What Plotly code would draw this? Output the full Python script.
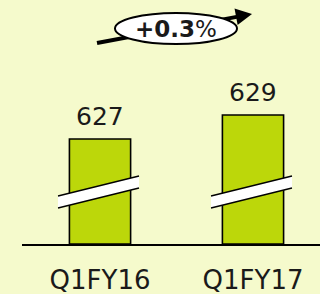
import plotly.graph_objects as go

categories = ["Q1FY16", "Q1FY17"]
values = [627, 629]
value_labels = ["627", "629"]
growth_label = "+0.3"

W, H = 320, 294
ML, MR, MT, MB = 22, 0, 0, 50
PW, PH = W - ML - MR, H - MT - MB

def px(xp):
    return (xp - ML) / PW

def py(yp):
    return (H - MB - yp) / PH

BG = "#F5FACC"
BAR = "#BCD70A"
FONT = "DejaVu Sans"

y_base = 618.25
y_top = y_base + PH / 12.0

fig = go.Figure()
fig.add_trace(go.Bar(
    x=[0, 1], y=[v - y_base for v in values], base=y_base,
    width=0.40, marker=dict(color=BAR, line=dict(color="black", width=1.6)),
    hoverinfo="skip",
))

# value labels
for i, (v, t) in enumerate(zip(values, value_labels)):
    fig.add_annotation(x=i, y=v, text=t, showarrow=False, yanchor="bottom",
                       yshift=6, font=dict(family=FONT, size=25, color="#1a1a1a"))

# break bands (relative to each bar centre, in axis units)
x_per_px = 1 / 153.0
y_per_px = 1 / 12.0
for i in range(len(categories)):
    xl = i - 42 * x_per_px
    xr = i + 39 * x_per_px
    yl = y_base + 42 * y_per_px
    yr = y_base + 62 * y_per_px
    h = 6 * y_per_px
    fig.add_shape(type="path", xref="x", yref="y",
                  path=f"M {xl},{yl-h} L {xr},{yr-h} L {xr},{yr+h} L {xl},{yl+h} Z",
                  fillcolor="white", line=dict(width=0), layer="above")
    for s in (-h, h):
        fig.add_shape(type="line", xref="x", yref="y", x0=xl, y0=yl + s, x1=xr, y1=yr + s,
                      line=dict(color="black", width=1.3), layer="above")

# growth arrow (below layer so the text annotation stays on top)
fig.add_shape(type="line", xref="paper", yref="paper",
              x0=px(97), y0=py(43), x1=px(238), y1=py(16.6),
              line=dict(color="black", width=4), layer="below")
fig.add_shape(type="path", xref="paper", yref="paper",
              path=f"M {px(252)},{py(14)} L {px(237.6)},{py(25)} L {px(234.5)},{py(8.5)} Z",
              fillcolor="black", line=dict(width=0), layer="below")
fig.add_shape(type="circle", xref="paper", yref="paper",
              x0=px(115), x1=px(237), y0=py(44), y1=py(13),
              fillcolor="white", line=dict(color="black", width=2), layer="below")
fig.add_annotation(xref="paper", yref="paper", x=px(176), y=py(29),
                   xanchor="center", yanchor="middle",
                   text=f"<b>{growth_label}</b>%", showarrow=False,
                   font=dict(family=FONT, size=23, color="#1a1a1a"))

fig.update_layout(
    width=W, height=H, margin=dict(l=ML, r=MR, t=MT, b=MB),
    paper_bgcolor=BG, plot_bgcolor=BG, showlegend=False,
    xaxis=dict(range=[-0.510, 1.438], tickmode="array", tickvals=[0, 1],
               ticktext=categories, showgrid=False, zeroline=False,
               showline=True, linecolor="black", linewidth=2,
               tickfont=dict(family=FONT, size=26, color="#1a1a1a"),
               ticklabelstandoff=12, fixedrange=True),
    yaxis=dict(range=[y_base, y_top], visible=False, fixedrange=True),
)
fig.write_html("out.html", config={"displayModeBar": False},
               post_script="document.body.style.margin='0';")
